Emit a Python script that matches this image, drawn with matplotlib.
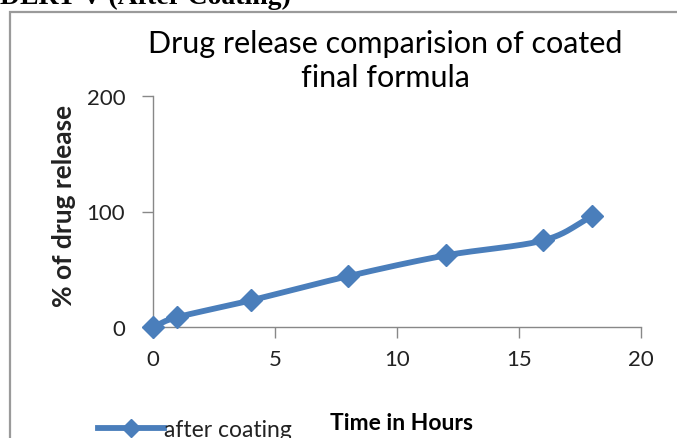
import numpy as np
import matplotlib
matplotlib.use("Agg")
import matplotlib.pyplot as plt
from matplotlib.lines import Line2D

# Data
time_hours = [0, 1, 4, 8, 12, 16, 18]
release_after_coating = [0, 8.5, 23, 44, 62, 75, 96]
x_ticks = [0, 5, 10, 15, 20]
y_ticks = [0, 100, 200]
series_name = "after coating"
title_text = "Drug release comparision of coated\nfinal formula"
xlabel_text = "Time in Hours"
ylabel_text = "% of drug release"
header_text = "DLRT V (After Coating)"

BLUE = "#4A7EBB"
GREY = "#888888"
FONT = "Lato"


def smooth(x, y, n=25):
    """Catmull-Rom curve through the points (for drawing a smoothed line)."""
    x = np.asarray(x, float)
    y = np.asarray(y, float)
    px = np.concatenate([[2 * x[0] - x[1]], x, [2 * x[-1] - x[-2]]])
    py = np.concatenate([[2 * y[0] - y[1]], y, [2 * y[-1] - y[-2]]])
    xs, ys = [], []
    t = np.linspace(0, 1, n)
    for i in range(1, len(px) - 2):
        p0, p1, p2, p3 = [np.array([px[j], py[j]]) for j in (i - 1, i, i + 1, i + 2)]
        tt = t[:, None]
        pts = 0.5 * ((2 * p1) + (-p0 + p2) * tt + (2 * p0 - 5 * p1 + 4 * p2 - p3) * tt ** 2
                     + (-p0 + 3 * p1 - 3 * p2 + p3) * tt ** 3)
        xs.extend(pts[:, 0])
        ys.extend(pts[:, 1])
    return np.array(xs), np.array(ys)


fig = plt.figure(figsize=(6.77, 4.39), dpi=100)
fig.patch.set_facecolor("white")

# outer frame
frame = plt.Rectangle((10 / 677, -0.05), 1.2, (439 - 13) / 439 + 0.05, transform=fig.transFigure,
                      fill=False, edgecolor="#9a9a9a", linewidth=1.6)
fig.add_artist(frame)

# header text (cropped at top)
fig.text(0.0, 1 - 4 / 439, header_text, fontfamily="Liberation Serif", fontweight="bold",
         fontsize=20, ha="left", va="baseline")

ax = fig.add_axes([153 / 677, 1 - 328 / 439, (641 - 153) / 677, (328 - 97) / 439])
ax.set_xlim(0, 20)
ax.set_ylim(0, 200)
ax.set_xticks(x_ticks)
ax.set_yticks(y_ticks)
ax.set_xticklabels([str(v) for v in x_ticks])
ax.set_yticklabels([str(v) for v in y_ticks])
for s in ("top", "right"):
    ax.spines[s].set_visible(False)
for s in ("left", "bottom"):
    ax.spines[s].set_color(GREY)
    ax.spines[s].set_linewidth(1.0)
ax.tick_params(axis="both", direction="out", length=8, width=1.0, color=GREY,
               labelsize=16, labelcolor="#222222")
ax.tick_params(axis="x", pad=8)
ax.tick_params(axis="y", pad=12)
for lab in ax.get_xticklabels() + ax.get_yticklabels():
    lab.set_fontfamily(FONT)

sx, sy = smooth(time_hours, release_after_coating)
ax.plot(sx, sy, color=BLUE, linewidth=4.2, solid_capstyle="round", clip_on=False, zorder=3)
ax.plot(time_hours, release_after_coating, linestyle="none", marker="D", markersize=11,
        color=BLUE, clip_on=False, zorder=4)

fig.text(385 / 677, 1 - 61 / 439, title_text, ha="center", va="center", fontsize=22,
         fontfamily=FONT, linespacing=1.25)
fig.text(401 / 677, 1 - 424 / 439, xlabel_text, ha="center", va="center", fontsize=16.5,
         fontweight="bold", fontfamily=FONT)
fig.text(64 / 677, 1 - 206 / 439, ylabel_text, ha="center", va="center", fontsize=19,
         fontweight="bold", fontfamily=FONT, rotation=90, color="#222222")

handle = Line2D([0], [0], color=BLUE, linewidth=4.2, marker="D", markersize=9)
leg = fig.legend([handle], [series_name], loc="center left",
                 bbox_to_anchor=(98 / 677, 1 - 431 / 439), frameon=False,
                 handlelength=2.9, handletextpad=0.0, borderaxespad=0, borderpad=0,
                 prop={"family": FONT, "size": 16.5})
for t in leg.get_texts():
    t.set_color("#222222")

fig.savefig("out.png", dpi=100)
